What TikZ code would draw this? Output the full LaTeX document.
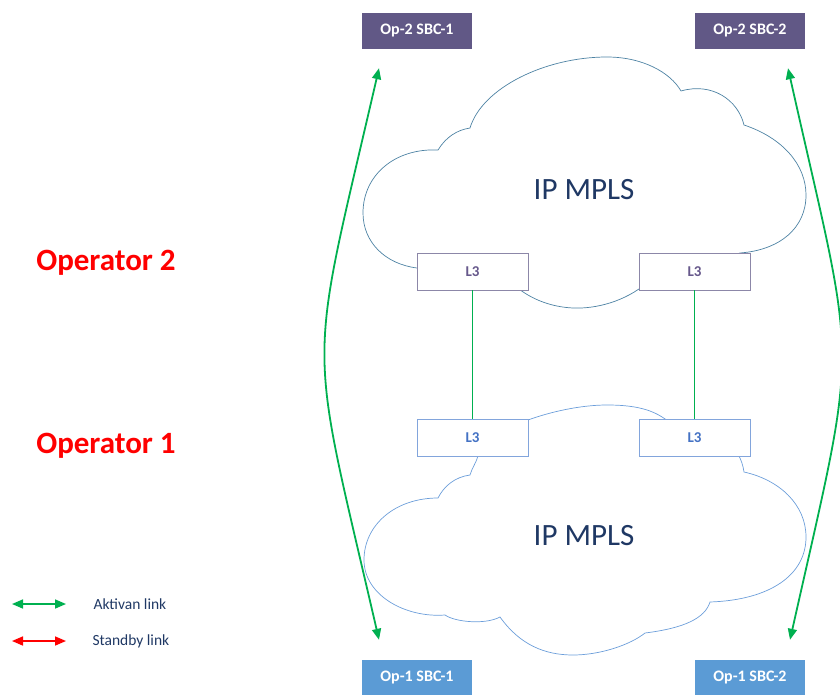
\documentclass[tikz,border=0pt]{standalone}
\usepackage{fontspec}
\setmainfont{Carlito}
\usepackage{xcolor}
\usepackage{tikz}
\usetikzlibrary{positioning,calc,arrows.meta}
\definecolor{optwo}{HTML}{615886}
\definecolor{opone}{HTML}{5B9BD5}
\definecolor{ltwoline}{HTML}{8C87A8}
\definecolor{ltwotext}{HTML}{67598C}
\definecolor{lonline}{HTML}{82A5DC}
\definecolor{lontext}{HTML}{4472C4}
\definecolor{cloudtwo}{HTML}{4D82A3}
\definecolor{cloudone}{HTML}{6C9EDA}
\definecolor{navy}{HTML}{1F3864}
\definecolor{linkgreen}{HTML}{00B050}

\begin{document}
\begin{tikzpicture}[x=1pt,y=-1pt,
    sbc/.style={minimum width=110pt,minimum height=36pt,inner sep=0pt,text=white,
      font=\bfseries\fontsize{16}{18}\selectfont},
    lthree/.style={draw,fill=white,minimum width=111pt,minimum height=37pt,inner sep=0pt,
      line width=0.8pt,font=\bfseries\fontsize{15}{17}\selectfont},
    link/.style={linkgreen,line width=1.8pt,{Triangle[length=11pt,width=9pt]}-{Triangle[length=11pt,width=9pt]}},
    oper/.style={red,font=\bfseries\fontsize{31}{35}\selectfont},
    legend/.style={navy,anchor=west,font=\fontsize{15.5}{18}\selectfont}]
    \useasboundingbox (0,0) rectangle (840,695);

    \draw [cloudtwo, line width=0.7pt] (440,275) -- (417,268)
        .. controls (385,264) and (363,242) .. (363,213)
        .. controls (363,175) and (395,148) .. (438,150)
        .. controls (446,137) and (457,130) .. (470,128)
        .. controls (482,88) and (545,57) .. (607,57)
        .. controls (642,57) and (670,72) .. (681,91)
        .. controls (712,82) and (738,100) .. (744,125)
        .. controls (783,138) and (806,165) .. (806,195)
        .. controls (806,228) and (780,250) .. (740,253)
        -- (648,282)
        .. controls (625,302) and (595,309) .. (573,308)
        .. controls (552,307) and (532,300) .. (515,286) -- cycle;
    \node [navy, font=\fontsize{31}{35}\selectfont] (mplstwo) at (584,190) {IP MPLS};

    \draw [cloudone, line width=0.7pt] (480,440) -- (478,456)
        .. controls (476,463) and (472,468) .. (470,475)
        .. controls (455,477) and (444,486) .. (438,498)
        .. controls (395,498) and (364,525) .. (364,560)
        .. controls (364,595) and (405,618) .. (445,615)
        .. controls (455,622) and (485,625) .. (500,617)
        .. controls (520,645) and (545,655) .. (573,655)
        .. controls (600,655) and (630,645) .. (645,633)
        .. controls (685,628) and (705,618) .. (710,602)
        .. controls (770,600) and (806,575) .. (806,537)
        .. controls (806,505) and (780,480) .. (744,472)
        .. controls (743,465) and (741,460) .. (739,456)
        -- (665,419)
        .. controls (650,408) and (630,405) .. (607,405)
        .. controls (580,405) and (550,412) .. (528,420) -- cycle;
    \node [navy, font=\fontsize{31}{35}\selectfont] (mplsone) at (584,536) {IP MPLS};

    \node [sbc, fill=optwo] (o2s1) at (417,31) {Op-2 SBC-1};
    \node [sbc, fill=optwo] (o2s2) at (750,31) {Op-2 SBC-2};
    \node [sbc, fill=opone] (o1s1) at (417,678) {Op-1 SBC-1};
    \node [sbc, fill=opone] (o1s2) at (750,678) {Op-1 SBC-2};

    \node [lthree, draw=ltwoline, text=ltwotext] (t1) at (472.5,271.5) {L3};
    \node [lthree, draw=ltwoline, text=ltwotext] (t2) at (694.5,271.5) {L3};
    \node [lthree, draw=lonline, text=lontext] (b1) at (472.5,437.5) {L3};
    \node [lthree, draw=lonline, text=lontext] (b2) at (694.5,437.5) {L3};

    \draw [linkgreen, line width=1.8pt] (t1) -- (b1);
    \draw [linkgreen, line width=1.8pt] (t2) -- (b2);

    \coordinate (a2l) at ($(o2s1.south)+(-38,19)$);
    \coordinate (a1l) at ($(o1s1.north)+(-38,-20)$);
    \coordinate (a2r) at ($(o2s2.south)+(38,19)$);
    \coordinate (a1r) at ($(o1s2.north)+(40,-20)$);
    \draw [link] (a2l) .. controls (307,380) and (307,328) .. (a1l);
    \draw [link] (a2r) .. controls (858,380) and (860,328) .. (a1r);

    \node [oper] (op2) at (106,263) {Operator 2};
    \node [oper] (op1) at (106,446) {Operator 1};

    \coordinate (ga) at (12,604);
    \coordinate (gb) at (66,604);
    \coordinate (ra) at (12,641);
    \coordinate (rb) at (66,641);
    \draw [link, line width=1.6pt] (ga) -- (gb);
    \draw [link, red, line width=1.6pt] (ra) -- (rb);
    \node [legend] (akt) at (90,604) {Aktivan link};
    \node [legend] (stb) at (89,641) {Standby link};
\end{tikzpicture}
\end{document}
